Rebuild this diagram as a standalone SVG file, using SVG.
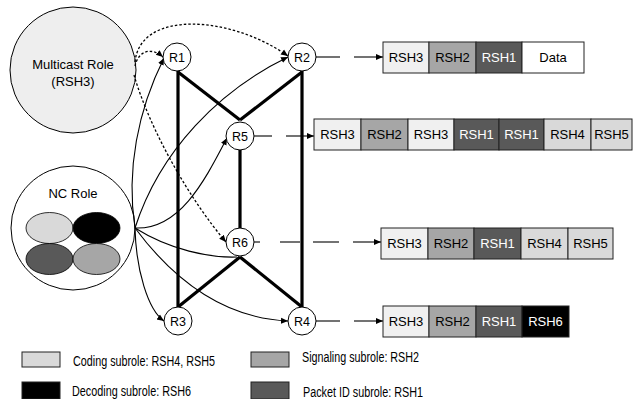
<svg xmlns="http://www.w3.org/2000/svg" width="635" height="399" viewBox="0 0 635 399">
<defs>
<marker id="ah" markerWidth="8" markerHeight="8" refX="7" refY="4" orient="auto" markerUnits="userSpaceOnUse">
<path d="M0,1 L7,4 L0,7 Z" fill="#000"/>
</marker>
<style>
text{font-family:"Liberation Sans",Arial,sans-serif;font-size:13px;fill:#000}
.c{text-anchor:middle}
.w{fill:#fff}
.lg{font-size:14px}
.node text{font-size:12.5px}
.node circle{fill:#fff;stroke:#000;stroke-width:1}
.cell{stroke:#222;stroke-width:1}
.thick{stroke:#000;stroke-width:3.2;fill:none}
.cv{stroke:#000;stroke-width:1.1;fill:none}
.dot{stroke:#000;stroke-width:1.3;fill:none;stroke-dasharray:2.5 2}
.ln{stroke:#000;stroke-width:1.1;fill:none}
.l3{fill:#f0f0f0}.l2{fill:#a6a6a6}.l1{fill:#595959}.l4{fill:#d9d9d9}.l6{fill:#000}.ld{fill:#fff}
</style>
</defs>
<rect width="635" height="399" fill="#fff"/>

<g id="multicast">
<circle cx="73" cy="70" r="63" fill="#eeeeee" stroke="#000" stroke-width="1"/>
<text x="73" y="69" class="c">Multicast Role</text>
<text x="73" y="86" class="c">(RSH3)</text>
</g>

<g id="ncrole">
<circle cx="73" cy="228" r="62" fill="#fff" stroke="#000" stroke-width="1"/>
<text x="73" y="198" class="c">NC Role</text>
<ellipse cx="49.5" cy="228" rx="23.5" ry="15.5" fill="#d9d9d9" stroke="#000" stroke-width="0.8"/>
<ellipse cx="96.5" cy="228" rx="23.5" ry="15.5" fill="#000" stroke="#000" stroke-width="0.8"/>
<ellipse cx="49.5" cy="259" rx="23.5" ry="15.5" fill="#595959" stroke="#000" stroke-width="0.8"/>
<ellipse cx="96.5" cy="259" rx="23.5" ry="15.5" fill="#a6a6a6" stroke="#000" stroke-width="0.8"/>
</g>

<g id="connectors">
<line class="thick" x1="178" y1="71" x2="178" y2="307"/>
<line class="thick" x1="302" y1="71" x2="302" y2="307"/>
<line class="thick" x1="178" y1="72" x2="240" y2="120"/>
<line class="thick" x1="302" y1="72" x2="240" y2="120"/>
<line class="thick" x1="240" y1="150" x2="240" y2="228"/>
<line class="thick" x1="240" y1="257" x2="178" y2="307"/>
<line class="thick" x1="240" y1="257" x2="302" y2="307"/>
<path class="dot" d="M135,66 C138,52 150,46 163,57" marker-end="url(#ah)"/>
<path class="dot" d="M135,62 C140,10 230,15 288,56" marker-end="url(#ah)"/>
<path class="dot" d="M134,75 C150,130 190,200 226,242" marker-end="url(#ah)"/>
<path class="cv" d="M135,228 C126,170 138,110 164,58" marker-end="url(#ah)"/>
<path class="cv" d="M135,228 C160,150 220,90 288,57" marker-end="url(#ah)"/>
<path class="cv" d="M135,228 C180,230 205,180 227,138" marker-end="url(#ah)"/>
<path class="cv" d="M135,228 C170,250 210,258 237,257"/>
<path class="cv" d="M135,228 C136,270 148,310 164,321" marker-end="url(#ah)"/>
<path class="cv" d="M135,228 C170,275 220,318 288,321" marker-end="url(#ah)"/>
<line class="ln" x1="316" y1="57" x2="340" y2="57"/>
<line class="ln" x1="354" y1="57" x2="383" y2="57" marker-end="url(#ah)"/>
<line class="ln" x1="254" y1="136" x2="272" y2="136"/>
<line class="ln" x1="286" y1="136" x2="314" y2="136" marker-end="url(#ah)"/>
<line class="ln" x1="254" y1="242" x2="260" y2="242"/>
<line class="ln" x1="280" y1="242" x2="300" y2="242"/>
<line class="ln" x1="313" y1="242" x2="339" y2="242"/>
<line class="ln" x1="353" y1="242" x2="381" y2="242" marker-end="url(#ah)"/>
<line class="ln" x1="316" y1="321" x2="340" y2="321"/>
<line class="ln" x1="354" y1="321" x2="383" y2="321" marker-end="url(#ah)"/>
</g>

<g id="R1" class="node"><circle cx="177" cy="57" r="14"/><text x="177" y="61.5" class="c">R1</text></g>
<g id="R2" class="node"><circle cx="302" cy="57" r="14"/><text x="302" y="61.5" class="c">R2</text></g>
<g id="R5" class="node"><circle cx="240" cy="136" r="14"/><text x="240" y="140.5" class="c">R5</text></g>
<g id="R6" class="node"><circle cx="240" cy="242" r="14"/><text x="240" y="246.5" class="c">R6</text></g>
<g id="R3" class="node"><circle cx="178" cy="321" r="14"/><text x="178" y="325.5" class="c">R3</text></g>
<g id="R4" class="node"><circle cx="302" cy="321" r="14"/><text x="302" y="325.5" class="c">R4</text></g>

<g id="packet1">
<rect class="cell l3" x="383" y="42" width="46" height="31"/>
<rect class="cell l2" x="429" y="42" width="47" height="31"/>
<rect class="cell l1" x="476" y="42" width="46" height="31"/>
<rect class="cell ld" x="522" y="42" width="62" height="31"/>
<text x="406" y="62" class="c">RSH3</text>
<text x="452.5" y="62" class="c">RSH2</text>
<text x="499" y="62" class="c w">RSH1</text>
<text x="553" y="62" class="c">Data</text>
</g>

<g id="packet2">
<rect class="cell l3" x="314" y="119" width="47" height="31"/>
<rect class="cell l2" x="361" y="119" width="47" height="31"/>
<rect class="cell l3" x="408" y="119" width="46" height="31"/>
<rect class="cell l1" x="454" y="119" width="45" height="31"/>
<rect class="cell l1" x="499" y="119" width="45" height="31"/>
<rect class="cell l4" x="544" y="119" width="47" height="31"/>
<rect class="cell l4" x="591" y="119" width="41" height="31"/>
<text x="337.5" y="139" class="c">RSH3</text>
<text x="384.5" y="139" class="c">RSH2</text>
<text x="431" y="139" class="c">RSH3</text>
<text x="476.5" y="139" class="c w">RSH1</text>
<text x="521.5" y="139" class="c w">RSH1</text>
<text x="567.5" y="139" class="c">RSH4</text>
<text x="611.5" y="139" class="c">RSH5</text>
</g>

<g id="packet3">
<rect class="cell l3" x="381" y="228" width="47" height="31"/>
<rect class="cell l2" x="428" y="228" width="46" height="31"/>
<rect class="cell l1" x="474" y="228" width="47" height="31"/>
<rect class="cell l4" x="521" y="228" width="47" height="31"/>
<rect class="cell l4" x="568" y="228" width="45" height="31"/>
<text x="404.5" y="248" class="c">RSH3</text>
<text x="451" y="248" class="c">RSH2</text>
<text x="497.5" y="248" class="c w">RSH1</text>
<text x="544.5" y="248" class="c">RSH4</text>
<text x="590.5" y="248" class="c">RSH5</text>
</g>

<g id="packet4">
<rect class="cell l3" x="383" y="306" width="46" height="31"/>
<rect class="cell l2" x="429" y="306" width="47" height="31"/>
<rect class="cell l1" x="476" y="306" width="46" height="31"/>
<rect class="cell l6" x="522" y="306" width="47" height="31"/>
<text x="406" y="326" class="c">RSH3</text>
<text x="452.5" y="326" class="c">RSH2</text>
<text x="499" y="326" class="c w">RSH1</text>
<text x="545.5" y="326" class="c w">RSH6</text>
</g>

<g id="legend">
<rect class="cell l4" x="22" y="352" width="38" height="15"/>
<text class="lg" x="73" y="366" textLength="142" lengthAdjust="spacingAndGlyphs">Coding subrole: RSH4, RSH5</text>
<rect class="cell l2" x="251" y="352" width="38" height="15"/>
<text class="lg" x="302" y="362" textLength="117" lengthAdjust="spacingAndGlyphs">Signaling subrole: RSH2</text>
<rect class="cell l6" x="22" y="382" width="38" height="17"/>
<text class="lg" x="72" y="396" textLength="119" lengthAdjust="spacingAndGlyphs">Decoding subrole: RSH6</text>
<rect class="cell l1" x="251" y="382" width="38" height="17"/>
<text class="lg" x="303" y="397" textLength="120" lengthAdjust="spacingAndGlyphs">Packet ID subrole: RSH1</text>
</g>
</svg>
